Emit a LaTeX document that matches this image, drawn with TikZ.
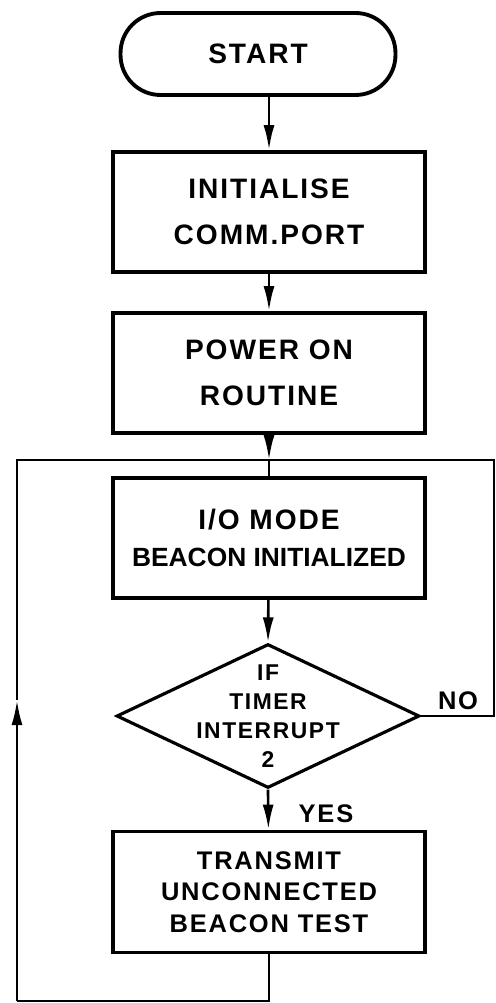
\documentclass[tikz,border=0pt]{standalone}
\usepackage{fontspec}
\setmainfont{Liberation Sans}
\newfontfamily\wide{Liberation Sans}[LetterSpace=7]
\usetikzlibrary{arrows.meta,shapes.geometric}
\tikzset{
  blk/.style={draw, line width=2.2pt, minimum width=6.24cm, minimum height=2.4cm, align=center, inner sep=1pt},
  term/.style={draw, line width=2.2pt, rounded corners=0.8cm, minimum width=5.5cm, minimum height=1.64cm},
  dec/.style={draw, diamond, line width=1.8pt, minimum width=6.06cm, minimum height=2.88cm, inner sep=0pt}
}

\begin{document}
\begin{tikzpicture}[x=0.02cm, y=-0.02cm, >={Latex[length=5mm,width=2.2mm]}, line width=1.5pt,
  big/.style={font=\wide\bfseries\fontsize{16}{26}\selectfont},
  mid/.style={font=\wide\bfseries\fontsize{14.5}{18}\selectfont},
  small/.style={font=\wide\bfseries\fontsize{13}{16.5}\selectfont}]
\useasboundingbox (0,0) rectangle (495,1003);
\node[term, big] (start) at (258,54) {START};
\node[blk, big] (init) at (269,212) {INITIALISE\\COMM.PORT};
\node[blk, big] (power) at (269,373) {POWER ON\\ROUTINE};
\node[blk, big, font=\wide\bfseries\fontsize{16}{21.5}\selectfont] (iomode) at (269,538) {I/O MODE\\{\fontspec{Liberation Sans}\bfseries\fontsize{15}{21.5}\selectfont BEACON INITIALIZED}};
\node[dec] (test) at (268,716) {};
\node[small, align=center] (testtxt) at (test.center) {IF\\TIMER\\INTERRUPT\\2};
\node[blk, mid, minimum height=2.42cm] (xmit) at (269,892) {TRANSMIT\\UNCONNECTED\\BEACON TEST};
\node[mid] (yes) at (326,814) {YES};
\node[mid] (no) at (458,701) {NO};
% loop back
\coordinate (jtop) at (269,460);
\coordinate (lb) at (17,1001);
\coordinate (lmid) at (17,700);
\coordinate (lt) at (17,460);
\coordinate (rt) at (494,460);
\draw[->] (init.north |- start.south) -- (init.north);
\draw[->] (init) -- (power);
\draw[->] (power) -- (jtop);
\draw (jtop) -- (iomode);
\draw[->] (iomode) -- (test.north);
\draw[->] (test.south) -- (xmit);
\draw (xmit.south) |- (lb);
\draw[->] (lb) -- (lmid);
\draw (lmid) -- (lt) -- (rt) |- (test.east);
\end{tikzpicture}
\end{document}
